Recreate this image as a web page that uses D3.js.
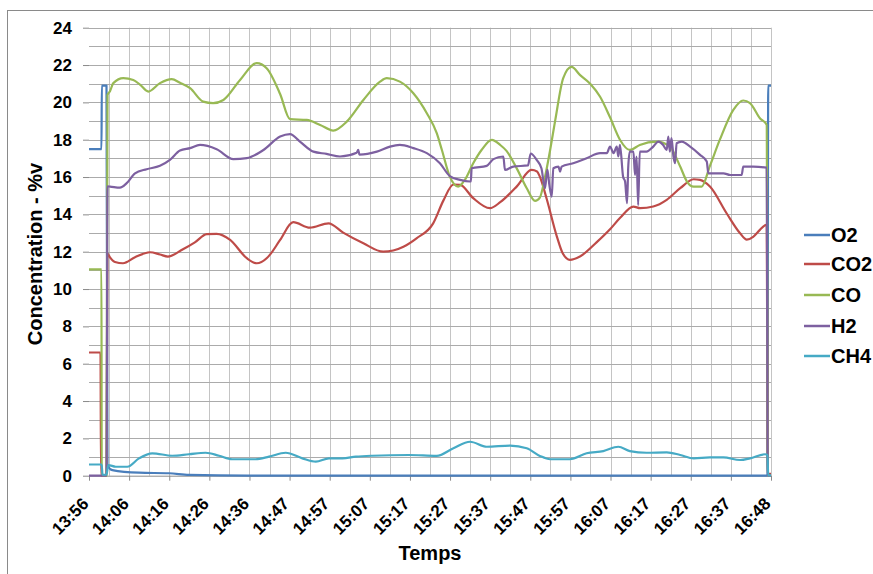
<!DOCTYPE html>
<html><head><meta charset="utf-8">
<script src="https://cdn.jsdelivr.net/npm/d3@7"></script>
<style>
body{margin:0;background:#fff}
svg{display:block;font-family:"Liberation Sans",Arial,sans-serif}
</style>
</head><body><svg id="c" width="873" height="574"></svg>
<script>
// ---- data (minutes elapsed since 13:56, value in %v) ----
const seriesNames = ["O2","CO2","CO","H2","CH4"];
const seriesColors = ["#4a7ebb","#be4b48","#98b954","#7d60a0","#46aac5"];
const xTickLabels = ["13:56","14:06","14:16","14:26","14:36","14:47","14:57","15:07","15:17","15:27","15:37","15:47","15:57","16:07","16:17","16:27","16:37","16:48"];
const yTickValues = [0,2,4,6,8,10,12,14,16,18,20,22,24];
const totalMinutes = 172;

const o2 = [[0,17.5],[3.15,17.5],[3.23,20.9],[4.41,20.9],[4.67,0.55],[5.88,0.3],[12.6,0.16],[20.2,0.13],[25.2,0.04],[40,0],[171.1,0],[171.3,20.9],[172,20.9]];
const co2 = [[0,6.6],[2.9,6.6],[3.03,0],[4.41,0],[4.67,11.9],[5.3,11.7],[6.56,11.45],[8.57,11.38],[11.6,11.7],[15.38,11.97],[17.9,11.85],[19.9,11.74],[23.7,12.13],[26.7,12.5],[29.7,12.94],[32.2,12.96],[35.6,12.63],[39.8,11.65],[42.3,11.38],[44.8,11.65],[45.6,11.83],[48.2,12.63],[51.5,13.58],[55.7,13.29],[60.4,13.52],[64.1,13.02],[69.2,12.45],[74.2,12.0],[79.3,12.27],[82.6,12.72],[86.8,13.52],[89.4,14.75],[91.9,15.6],[93.6,15.58],[96.9,14.87],[101.1,14.33],[103.7,14.65],[107.9,15.5],[111.6,16.38],[113.0,16.3],[113.7,16.02],[115.4,14.85],[118.0,12.81],[119.5,11.9],[121.3,11.56],[123.8,11.74],[128.0,12.5],[131.4,13.2],[133.9,13.8],[137.3,14.42],[139.0,14.33],[142.3,14.42],[145.7,14.78],[149.1,15.4],[152.5,15.88],[154.1,15.85],[156.6,15.49],[160.8,14.06],[164.2,12.99],[165.9,12.65],[167.5,12.8],[169.2,13.17],[170.9,13.45],[171.2,0.1],[172,0.1]];
const co = [[0,11.05],[3.15,11.05],[3.2,0],[4.41,0],[4.67,20.4],[5.3,20.6],[6.13,21.03],[8.65,21.3],[11.17,21.2],[12.86,20.95],[14.96,20.58],[17.9,21.03],[20.86,21.24],[22.95,21.05],[25.5,20.76],[28.8,20.04],[31.3,19.96],[33.9,20.13],[38.1,21.2],[42.3,22.1],[44.8,21.83],[48.2,20.45],[50.7,19.1],[54.9,19.06],[58.3,18.79],[61.6,18.49],[65.0,18.97],[69.2,20.13],[73.4,21.11],[75.1,21.3],[78.4,21.11],[81.8,20.49],[85.2,19.42],[87.7,18.35],[89.0,17.45],[91.0,16.02],[93.1,15.49],[94.8,15.85],[96.9,16.74],[99.0,17.45],[101.6,17.99],[103.7,17.72],[105.3,17.4],[107.9,16.45],[110.4,15.4],[112.5,14.72],[113.7,14.9],[115.0,16.0],[116.3,17.45],[117.6,19.06],[119.6,21.3],[121.7,21.9],[123.8,21.47],[126.4,21.0],[128.9,20.3],[131.4,19.2],[133.9,18.0],[136.4,17.45],[138.9,17.72],[143.2,17.9],[146.5,17.63],[149.1,16.56],[150.8,15.76],[152.5,15.49],[154.5,15.49],[156.6,16.6],[159.1,18.0],[162.5,19.6],[165.0,20.1],[166.7,19.96],[169.2,19.15],[170.9,18.8],[171.2,0],[172,0]];
const h2 = [[0,0],[4.41,0],[4.67,15.5],[5.3,15.49],[7.8,15.43],[9.5,15.67],[11.6,16.2],[14.55,16.42],[17.9,16.6],[20.4,16.92],[22.95,17.42],[25.5,17.55],[28.0,17.72],[32.2,17.49],[36.4,16.96],[39.8,17.01],[44.0,17.45],[48.2,18.17],[50.7,18.3],[53.2,17.9],[56.6,17.36],[59.9,17.24],[63.3,17.1],[67.5,17.3],[67.9,17.45],[68.2,17.2],[72.6,17.36],[75.9,17.63],[78.4,17.72],[81.8,17.55],[85.2,17.28],[88.5,16.74],[91.0,16.05],[93.6,15.85],[96.1,15.76],[96.3,15.76],[96.5,16.47],[100.3,16.6],[102.0,16.96],[104.5,17.1],[104.9,16.38],[107.0,16.56],[110.7,16.62],[111.4,17.26],[112.9,16.92],[114.1,16.47],[115.0,15.4],[115.6,16.4],[116.1,15.58],[116.7,14.95],[117.1,16.47],[118.4,16.56],[118.8,16.29],[119.2,16.56],[122.1,16.74],[125.5,17.01],[128.9,17.28],[130.6,17.28],[131.4,17.63],[132.3,17.28],[133.1,17.63],[133.5,17.1],[133.9,17.72],[134.7,16.02],[135.2,15.76],[135.7,14.6],[136.0,16.56],[136.4,17.36],[137.3,17.36],[137.7,16.11],[138.1,17.1],[138.5,14.5],[138.9,17.36],[140.6,17.36],[142.3,17.63],[143.6,17.9],[144.8,17.72],[145.7,17.45],[146.1,18.17],[146.5,17.36],[146.9,18.08],[147.4,17.1],[147.8,16.74],[148.2,17.81],[149.5,17.9],[151.6,17.63],[154.1,17.19],[155.8,16.83],[156.2,16.2],[157.5,16.2],[160.0,16.2],[161.7,16.11],[164.6,16.11],[165.0,16.56],[167.5,16.56],[170.9,16.5],[171.2,0],[172,0]];
const ch4 = [[0,0.6],[3.2,0.6],[3.4,0.05],[4.41,0.05],[4.87,0.57],[6.73,0.48],[9.66,0.48],[12.6,0.93],[15.96,1.2],[21.0,1.07],[25.2,1.15],[29.4,1.23],[32.8,1.07],[36.1,0.88],[42.0,0.88],[45.4,1.02],[49.6,1.23],[53.8,0.93],[57.2,0.75],[60.5,0.93],[63.9,0.93],[67.3,1.02],[71.4,1.07],[80.7,1.11],[87.7,1.06],[91.9,1.47],[96.1,1.82],[100.3,1.55],[106.2,1.61],[110.4,1.47],[113.7,1.06],[116.3,0.88],[121.3,0.88],[125.5,1.2],[129.7,1.32],[133.5,1.55],[136.4,1.32],[140.6,1.23],[145.7,1.25],[149.1,1.11],[152.5,0.93],[156.6,0.98],[160.0,0.98],[164.2,0.84],[166.7,0.93],[170.5,1.15],[171.1,1.1],[171.3,0.02],[172,0.02]];
const seriesData = [o2, co2, co, h2, ch4];

// ---- layout ----
const svg = d3.select("#c");
const x = d3.scaleLinear().domain([0,totalMinutes]).range([89,771]);
const y = d3.scaleLinear().domain([0,24]).range([475.7,27.7]);
const FONT = "'Liberation Sans',Arial,sans-serif";

// outer chart border
svg.append("rect").attr("x",7.5).attr("y",10.5).attr("width",900).attr("height",600)
  .attr("fill","none").attr("stroke","#8a8a8a").attr("stroke-width",1);

// vertical gridlines (every half label interval)
const step = totalMinutes/34;
svg.append("g").selectAll("line").data(d3.range(1,35)).join("line")
  .attr("x1",d=>Math.round(x(d*step))+0.5).attr("x2",d=>Math.round(x(d*step))+0.5)
  .attr("y1",y(24)).attr("y2",y(0))
  .attr("stroke","#c4c4c4").attr("stroke-width",1);
// horizontal gridlines (every unit)
svg.append("g").selectAll("line").data(d3.range(1,25)).join("line")
  .attr("x1",x(0)).attr("x2",x(totalMinutes))
  .attr("y1",d=>Math.round(y(d))+0.5).attr("y2",d=>Math.round(y(d))+0.5)
  .attr("stroke","#ababab").attr("stroke-width",1);

// y axis
const yAxis = d3.axisLeft(y).tickValues(yTickValues).tickSize(6).tickPadding(11);
const gy = svg.append("g").attr("transform","translate(89,0)").call(yAxis);
gy.select(".domain").remove();
gy.selectAll(".tick line").attr("stroke","#8a8a8a");
gy.selectAll(".tick text").attr("font-size",17).attr("font-weight","bold").attr("fill","#000")
  .attr("font-family",FONT);

// x axis
const xTickPos = xTickLabels.map((_,i)=>i*totalMinutes/17);
const xAxis = d3.axisBottom(x).tickValues(xTickPos).tickFormat((d,i)=>xTickLabels[i]).tickSize(5).tickSizeOuter(0);
const gx = svg.append("g").attr("transform",`translate(0,${y(0)})`).call(xAxis);
gx.select(".domain").attr("stroke","#8a8a8a");
gx.selectAll(".tick line").attr("stroke","#8a8a8a");
gx.selectAll(".tick text").attr("font-size",17).attr("font-weight","bold").attr("fill","#000")
  .attr("font-family",FONT)
  .attr("text-anchor","end").attr("dy","0.35em")
  .attr("transform","translate(-4,25) rotate(-45)").attr("y",0);

// series
const line = d3.line().x(d=>x(d[0])).y(d=>y(d[1])).curve(d3.curveMonotoneX);
svg.append("g").selectAll("path").data(seriesData).join("path")
  .attr("d",line).attr("fill","none")
  .attr("stroke",(d,i)=>seriesColors[i]).attr("stroke-width",2.2)
  .attr("stroke-linejoin","round");

// axis titles
svg.append("text").attr("transform","translate(42,254) rotate(-90)")
  .attr("text-anchor","middle").attr("font-size",20).attr("font-weight","bold")
  .text("Concentration - %v");
svg.append("text").attr("x",430).attr("y",560).attr("text-anchor","middle")
  .attr("font-size",20).attr("font-weight","bold").text("Temps");

// legend
const legendY = [235,264,295,326,356];
const lg = svg.append("g").selectAll("g").data(seriesNames).join("g")
  .attr("transform",(d,i)=>`translate(804,${legendY[i]})`);
lg.append("line").attr("x1",0).attr("x2",26).attr("y1",0).attr("y2",0)
  .attr("stroke",(d,i)=>seriesColors[i]).attr("stroke-width",2.5);
lg.append("text").attr("x",27).attr("y",0).attr("dy","0.36em")
  .attr("font-size",20).attr("font-weight","bold").text(d=>d);
</script></body></html>
